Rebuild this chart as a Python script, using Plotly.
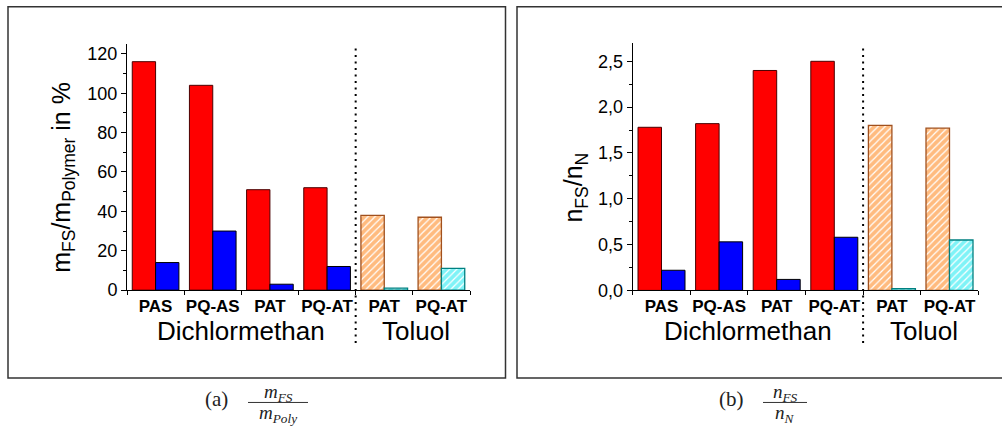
import plotly.graph_objects as go

W, H = 1002, 432

categories = ["PAS", "PQ-AS", "PAT", "PQ-AT", "PAT", "PQ-AT"]
solvents = ["Dichlormethan", "Toluol"]

# panel (a): m_FS / m_Polymer in %
a_first = [116, 104, 51, 52, 38, 37]
a_second = [14, 30, 3, 12, 1, 11]
# panel (b): n_FS / n_N
b_first = [1.78, 1.82, 2.40, 2.50, 1.80, 1.77]
b_second = [0.22, 0.53, 0.12, 0.58, 0.02, 0.55]

def px(x):
    return x / W

def py(y):
    return 1 - y / H

SANS = "Liberation Sans, Arial, sans-serif"
SERIF = "Liberation Serif, Times New Roman, serif"

BW = 0.408
xpos = list(range(len(categories)))
dcm = slice(0, 4)
tol = slice(4, 6)

fig = go.Figure()

def add_panel(first, second, xa, ya):
    # Dichlormethan: solid red / blue
    fig.add_trace(go.Bar(x=xpos[dcm], y=first[dcm], width=BW, offset=-BW,
                         marker=dict(color="#ff0000", line=dict(color="#4a0000", width=1)),
                         xaxis=xa, yaxis=ya, showlegend=False))
    fig.add_trace(go.Bar(x=xpos[dcm], y=second[dcm], width=BW, offset=0,
                         marker=dict(color="#0000ff", line=dict(color="#000000", width=1)),
                         xaxis=xa, yaxis=ya, showlegend=False))
    # Toluol: hatched orange / cyan
    fig.add_trace(go.Bar(x=xpos[tol], y=first[tol], width=BW, offset=-BW,
                         marker=dict(color="white", line=dict(color="#a0501e", width=1.3),
                                     pattern=dict(shape="/", fgcolor="#ff7800", bgcolor="white",
                                                  size=5, solidity=0.76)),
                         xaxis=xa, yaxis=ya, showlegend=False))
    fig.add_trace(go.Bar(x=xpos[tol], y=second[tol], width=BW, offset=0,
                         marker=dict(color="white", line=dict(color="#008080", width=1.3),
                                     pattern=dict(shape="/", fgcolor="#00e8f0", bgcolor="white",
                                                  size=5, solidity=0.76)),
                         xaxis=xa, yaxis=ya, showlegend=False))

add_panel(a_first, a_second, "x", "y")
add_panel(b_first, b_second, "x2", "y2")

xaxis_common = dict(
    range=[-0.5, 5.5], tickvals=xpos, ticktext=categories, ticks="",
    tickfont=dict(family=SANS, size=17, color="black", weight="bold"),
    showline=True, linecolor="black", linewidth=1, showgrid=False, zeroline=False,
    minor=dict(tickvals=[i - 0.5 for i in range(len(categories) + 1)], ticks="outside",
               ticklen=4, tickcolor="black", tickwidth=1),
)
fig.update_layout(
    width=W, height=H, margin=dict(l=0, r=0, t=0, b=0),
    paper_bgcolor="white", plot_bgcolor="white",
    barmode="overlay", separators=", ",
    xaxis=dict(domain=[px(127), px(470)], anchor="y", **xaxis_common),
    xaxis2=dict(domain=[px(632.7), px(978.3)], anchor="y2", **xaxis_common),
    yaxis=dict(domain=[py(297), py(45)], anchor="x", range=[0, 125], dtick=20,
               ticks="outside", ticklen=5, tickcolor="black",
               minor=dict(dtick=10, ticks="outside", ticklen=3, tickcolor="black"),
               tickfont=dict(family=SANS, size=18, color="black"),
               showline=True, linecolor="black", linewidth=1, showgrid=False, zeroline=False),
    yaxis2=dict(domain=[py(297.3), py(44)], anchor="x2", range=[0, 2.7], dtick=0.5,
                tickformat=".1f",
                ticks="outside", ticklen=5, tickcolor="black",
                minor=dict(dtick=0.25, ticks="outside", ticklen=3, tickcolor="black"),
                tickfont=dict(family=SANS, size=18, color="black"),
                showline=True, linecolor="black", linewidth=1, showgrid=False, zeroline=False),
)

shapes = []
# panel frames
shapes.append(dict(type="rect", xref="paper", yref="paper", x0=px(8), x1=px(505.5),
                   y0=py(387), y1=py(7), line=dict(color="#333333", width=1.5)))
shapes.append(dict(type="rect", xref="paper", yref="paper", x0=px(517), x1=px(1010),
                   y0=py(387), y1=py(7), line=dict(color="#333333", width=1.5)))
# dotted separators
for xr in ["x", "x2"]:
    shapes.append(dict(type="line", xref=xr, yref="paper", x0=3.5, x1=3.5,
                       y0=py(351), y1=py(45), line=dict(color="black", width=2, dash="2px,4.5px")))
# fraction bars of captions
shapes.append(dict(type="line", xref="paper", yref="paper", x0=px(248), x1=px(308),
                   y0=py(412), y1=py(412), line=dict(color="#333333", width=1)))
shapes.append(dict(type="line", xref="paper", yref="paper", x0=px(763), x1=px(807),
                   y0=py(412), y1=py(412), line=dict(color="#333333", width=1)))

def note(x, y, text, size, family=SANS, xref="paper", angle=0, color="black"):
    return dict(x=x, y=y, xref=xref, yref="paper", text=text, showarrow=False,
                xanchor="center", yanchor="middle", textangle=angle,
                font=dict(family=family, size=size, color=color))

ann = []
for xr in ["x", "x2"]:
    ann.append(note(1.5, py(338.5), solvents[0], 26, xref=xr))
    ann.append(note(4.55, py(338.5), solvents[1], 26, xref=xr))
ann.append(note(px(63), py(181), "m<sub>FS</sub>/m<sub>Polymer</sub> in %", 25, angle=-90))
ann.append(note(px(575), py(192), "n<sub>FS</sub>/n<sub>N</sub>", 25, angle=-90))
# captions
ann.append(note(px(216), py(408), "(a)", 21, family=SERIF, color="#222222"))
ann.append(note(px(278), py(402), "<i>m</i><sub><i>FS</i></sub>", 19, family=SERIF, color="#222222"))
ann.append(note(px(278), py(424), "<i>m</i><sub><i>Poly</i></sub>", 19, family=SERIF, color="#222222"))
ann.append(note(px(731), py(408), "(b)", 21, family=SERIF, color="#222222"))
ann.append(note(px(785), py(402), "<i>n</i><sub><i>FS</i></sub>", 19, family=SERIF, color="#222222"))
ann.append(note(px(785), py(424), "<i>n</i><sub><i>N</i></sub>", 19, family=SERIF, color="#222222"))

fig.update_layout(shapes=shapes, annotations=ann)
fig.write_html("out.html")
